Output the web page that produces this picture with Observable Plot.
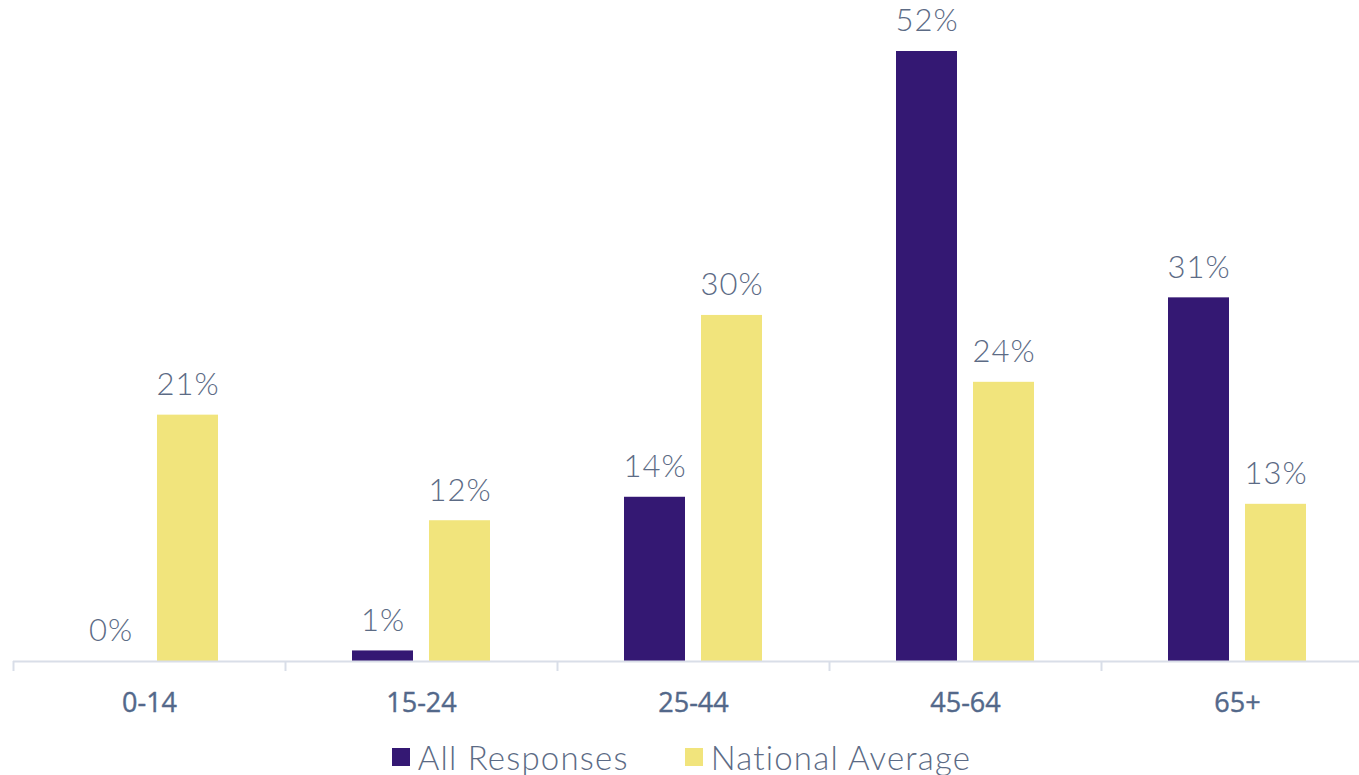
<!DOCTYPE html>
<html>
<head>
<meta charset="utf-8">
<script src="https://cdn.jsdelivr.net/npm/d3@7"></script>
<script src="https://cdn.jsdelivr.net/npm/@observablehq/plot@0.6"></script>
<style>
  html, body { margin: 0; padding: 0; background: #fff; }
  #chart svg { display: block; }
  .legend { display: flex; justify-content: center; align-items: center; gap: 56px;
    font-family: Lato, "Open Sans", sans-serif; font-weight: 300; font-size: 33px; color: #5C6B85;
    letter-spacing: 1.2px; height: 40px; margin-top: 7px; padding-left: 4px; }
  .legend span.sw { display: inline-block; width: 18px; height: 18px; margin-right: 8px; }
  .legend .item { display: flex; align-items: center; }
</style>
</head>
<body>
<div id="chart"></div>
<div class="legend" id="legend"></div>
<script>
const categories = ["0-14", "15-24", "25-44", "45-64", "65+"];
const allResponses = [0, 0.9, 14, 52, 31];
const nationalAverage = [21, 12, 29.5, 23.8, 13.4];
const seriesNames = ["All Responses", "National Average"];
const seriesColors = ["#341873", "#F1E47C"];

const rows = [];
categories.forEach((c, i) => {
  rows.push({cat: c, series: seriesNames[0], value: allResponses[i]});
  rows.push({cat: c, series: seriesNames[1], value: nationalAverage[i]});
});
const A = rows.filter(d => d.series === seriesNames[0]);
const N = rows.filter(d => d.series === seriesNames[1]);
const fmt = v => Math.round(v) + "%";
const textColor = "#5C6B85";

const chart = Plot.plot({
  width: 1359,
  height: 730,
  marginLeft: 13,
  marginRight: 0,
  marginTop: 0,
  marginBottom: 0,
  x: {domain: categories, range: [13, 1373], padding: 0, axis: null, label: null},
  y: {domain: [0, 52], range: [661, 51], axis: null},
  style: {background: "#fff"},
  marks: [
    Plot.barY(A, {x: "cat", y: "value", fill: seriesColors[0], insetLeft: 67, insetRight: 144}),
    Plot.barY(N, {x: "cat", y: "value", fill: seriesColors[1], insetLeft: 144, insetRight: 67}),
    Plot.ruleY([0], {stroke: "#D9DEE8", strokeWidth: 2}),
    Plot.axisX({anchor: "bottom", y: 0, label: null, tickSize: 10, dx: -136, tickFormat: () => "", stroke: "#D9DEE8", strokeWidth: 2, strokeOpacity: 1}),
    Plot.text(categories, {x: d => d, y: 0, dy: 42, text: d => d, fill: "#53688A",
      fontSize: 27, fontWeight: 500, fontFamily: "'Open Sans', sans-serif", stroke: "#53688A", strokeWidth: 0.4}),
    Plot.text(A, {x: "cat", y: "value", dx: -38.5, dy: -30, text: d => fmt(d.value), fill: textColor,
      fontSize: 31, fontWeight: 300, fontFamily: "Lato, sans-serif"}),
    Plot.text(N, {x: "cat", y: "value", dx: 38.5, dy: -30, text: d => fmt(d.value), fill: textColor,
      fontSize: 31, fontWeight: 300, fontFamily: "Lato, sans-serif"})
  ]
});
chart.querySelectorAll("text").forEach(t => {
  if (t.textContent.endsWith("%")) t.setAttribute("letter-spacing", "1");
});
document.getElementById("chart").appendChild(chart);

const legend = document.getElementById("legend");
seriesNames.forEach((n, i) => {
  const item = document.createElement("div");
  item.className = "item";
  const sw = document.createElement("span");
  sw.className = "sw";
  sw.style.background = seriesColors[i];
  item.appendChild(sw);
  item.appendChild(document.createTextNode(n));
  legend.appendChild(item);
});
</script>
</body>
</html>
